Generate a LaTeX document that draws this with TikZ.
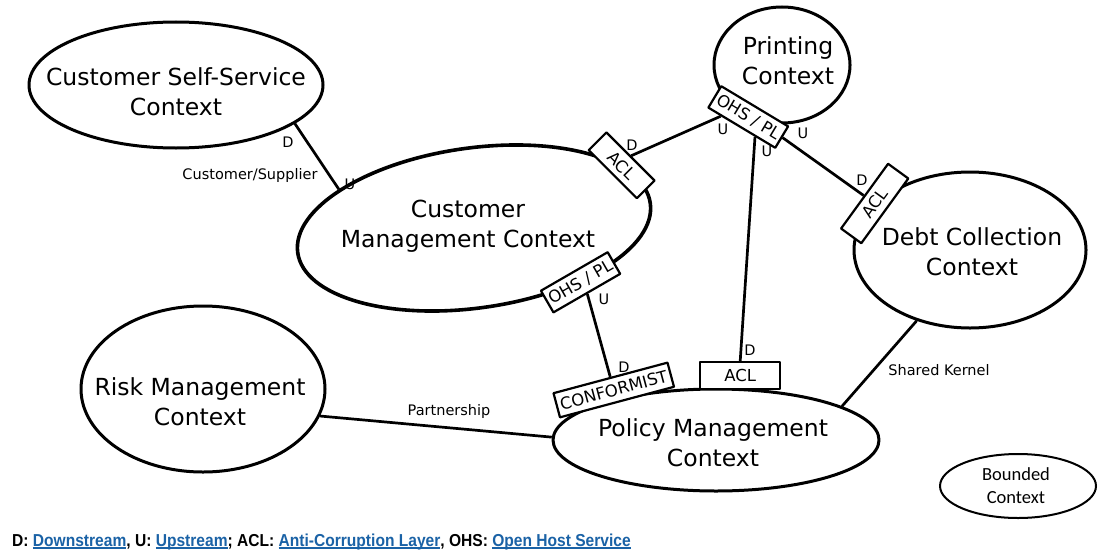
\documentclass[tikz,border=0pt]{standalone}
\usepackage{fontspec}
\setmainfont{DejaVu Sans}
\newfontfamily\boundedfont{Carlito}
\newfontfamily\legendfont[FakeStretch=0.9]{Liberation Sans}
\usetikzlibrary{shapes.geometric,calc}
\definecolor{inkblack}{HTML}{000000}
\definecolor{linkblue}{HTML}{1A62A6}
\newcommand{\legendlink}[1]{\textcolor{linkblue}{\setbox0\hbox{#1}\rlap{\rule[-2.8pt]{\wd0}{1.4pt}}\box0}}

\begin{document}
\begin{tikzpicture}[
    x=1pt, y=-1pt,
    line join=round,
    context/.style={draw=inkblack, ellipse, line width=3pt, inner sep=0pt},
    ctxtext/.style={align=center, inner sep=0pt, font=\fontsize{23.5}{30}\selectfont},
    maplabel/.style={inner sep=0pt, font=\fontsize{14.5}{17}\selectfont},
    mapbox/.style={draw=inkblack, fill=white, line width=2.2pt, inner sep=3pt, minimum height=25pt, font=\fontsize{16.5}{19}\selectfont},
    mapline/.style={draw=inkblack, line width=2.7pt}
]

    % Page
    \path[use as bounding box, fill=white] (0,0) rectangle (1107,551);

    % Bounded contexts
    \node[context, minimum width=294pt, minimum height=126pt] (css) at (176,85) {};
    \node[context, minimum width=136pt, minimum height=116pt] (printing) at (782,65) {};
    \node[context, line width=3.6pt, rotate=8, minimum width=356pt, minimum height=160pt] (cm) at (474,228) {};
    \node[context, minimum width=232pt, minimum height=156pt] (debt) at (970,250) {};
    \node[context, minimum width=244pt, minimum height=166pt] (risk) at (203,389) {};
    \node[context, minimum width=326pt, minimum height=102pt] (policy) at (716,440) {};
    \node[context, line width=2pt, minimum width=156pt, minimum height=64pt] (bounded) at (1018,486) {};

    \node[ctxtext] (cssText) at (176,92) {Customer Self-Service\\Context};
    \node[ctxtext] (printingText) at (788,61) {Printing\\Context};
    \node[ctxtext] (cmText) at (468,226) {Customer\\Management Context};
    \node[ctxtext] (debtText) at (972,252) {Debt Collection\\Context};
    \node[ctxtext] (riskText) at (200,402) {Risk Management\\Context};
    \node[ctxtext] (policyText) at (713,443) {Policy Management\\Context};
    \node[ctxtext, font=\boundedfont\fontsize{18.5}{23}\selectfont] (boundedText) at (1016,486) {Bounded\\Context};

    % Translation boxes sitting on the context borders
    \node[mapbox, rotate=-45, minimum width=68pt] (cmACL) at (cm.15) {ACL};
    \node[mapbox, rotate=-31, minimum width=78pt] (prOHS) at (printing.-123) {OHS / PL};
    \node[mapbox, rotate=30, minimum width=74pt] (cmOHS) at (cm.-35) {OHS / PL};
    \node[mapbox, rotate=54, minimum width=80pt] (debtACL) at (debt.154) {ACL};
    \node[mapbox, rotate=15, anchor=south, minimum width=118pt, xshift=2pt, yshift=-5pt] (conformist) at (policy.158) {CONFORMIST};
    \node[mapbox, anchor=south, minimum width=80pt, minimum height=27pt, yshift=-2pt] (polACL) at (policy.65) {ACL};

    % Relationships
    \draw[mapline] (css.-18) -- (cm.156);
    \draw[mapline] (cmACL.north) -- ($(prOHS.south west)!.2!(prOHS.south east)$);
    \draw[mapline] ($(prOHS.south west)!.7!(prOHS.south east)$) -- (polACL.north);
    \draw[mapline] (prOHS.east) -- (debtACL.north);
    \draw[mapline] (cmOHS.south) -- (conformist.north);
    \draw[mapline] (risk.-13) -- (policy.179);
    \draw[mapline] (debt.-127) -- (policy.15);

    % Upstream / downstream marks
    \node[maplabel] (cssD) at (288,142) {D};
    \node[maplabel] (cmU) at (350,184) {U};
    \node[maplabel] (cmAclD) at (632,145) {D};
    \node[maplabel] (prU1) at (723,129) {U};
    \node[maplabel] (prU2) at (767,151) {U};
    \node[maplabel] (polD1) at (750,350) {D};
    \node[maplabel] (prU3) at (803,133) {U};
    \node[maplabel] (debtD) at (862,180) {D};
    \node[maplabel] (cmU2) at (604,299) {U};
    \node[maplabel] (polD2) at (624,367) {D};

    % Relationship names
    \node[maplabel] (custSup) at (250,175) {Customer/Supplier};
    \node[maplabel] (partner) at (449,411) {Partnership};
    \node[maplabel] (kernel) at (939,370) {Shared Kernel};

    % Legend
    \node[anchor=base west, inner sep=0pt, font=\legendfont\bfseries\fontsize{17.3}{20}\selectfont] (legend) at (12,546)
        {D: \legendlink{Downstream}, U: \legendlink{Upstream}; ACL: \legendlink{Anti-Corruption Layer}, OHS: \legendlink{Open Host Service}};

\end{tikzpicture}
\end{document}
